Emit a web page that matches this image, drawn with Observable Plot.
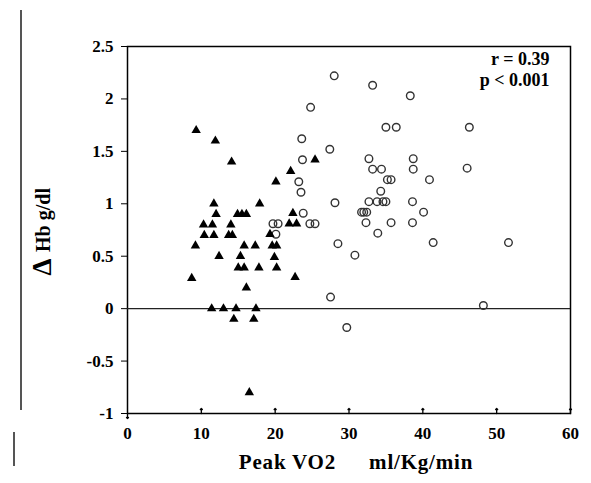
<!DOCTYPE html>
<html><head><meta charset="utf-8">
<script src="https://cdn.jsdelivr.net/npm/d3@7"></script>
<script src="https://cdn.jsdelivr.net/npm/@observablehq/plot@0.6"></script>
<style>
body{margin:0;background:#fff;}
#wrap{position:relative;width:591px;height:483px;overflow:hidden;}
.scan{position:absolute;background:#555;width:2px;}
svg text{font-family:'Liberation Serif','Times New Roman',serif;font-weight:bold;}
</style></head><body>
<div id="wrap">
  <div class="scan" style="left:20px;top:10px;height:400px;"></div>
  <div class="scan" style="left:13px;top:432px;height:34px;"></div>
</div>
<script>
// Filled triangles (low peak VO2 group)
const lowX = [9.3, 11.9, 14.1, 20.1, 22.1, 25.4, 11.7, 17.9, 12.0, 14.9, 15.5, 16.1, 22.4,
  10.3, 11.5, 14.0, 21.9, 22.9, 10.4, 11.7, 13.7, 14.2, 19.3, 9.2, 15.8, 17.3, 19.6, 20.2,
  12.4, 15.3, 19.9, 15.0, 15.8, 17.8, 20.2, 22.7, 8.7, 16.1, 11.4, 13.0, 14.7, 17.4, 14.4, 17.1, 16.5];
const lowY = [1.70, 1.60, 1.40, 1.21, 1.31, 1.42, 1.00, 1.00, 0.90, 0.90, 0.90, 0.90, 0.91,
  0.80, 0.80, 0.80, 0.81, 0.81, 0.70, 0.70, 0.70, 0.70, 0.71, 0.60, 0.60, 0.60, 0.60, 0.60,
  0.50, 0.50, 0.49, 0.39, 0.39, 0.39, 0.39, 0.30, 0.29, 0.20, 0.00, 0.00, 0.00, 0.00, -0.10, -0.10, -0.80];
// Open circles (high peak VO2 group)
const highX = [28.0, 33.2, 38.3, 24.8, 35.0, 36.4, 46.3, 23.6, 27.4, 23.7, 32.7, 38.7, 33.2, 34.4,
  38.7, 46.0, 40.9, 35.2, 35.7, 23.2, 23.5, 34.3, 28.1, 32.7, 33.8, 34.6, 35.0, 38.6, 23.8,
  31.7, 32.0, 32.4, 40.1, 19.7, 20.4, 24.7, 25.4, 32.3, 35.7, 38.6, 20.1, 33.9, 28.5, 41.4,
  51.6, 30.8, 27.5, 48.2, 29.7];
const highY = [2.22, 2.13, 2.03, 1.92, 1.73, 1.73, 1.73, 1.62, 1.52, 1.42, 1.43, 1.43, 1.33, 1.33,
  1.33, 1.34, 1.23, 1.23, 1.23, 1.21, 1.11, 1.12, 1.01, 1.02, 1.02, 1.02, 1.02, 1.02, 0.91,
  0.92, 0.92, 0.92, 0.92, 0.81, 0.81, 0.81, 0.81, 0.82, 0.82, 0.82, 0.71, 0.72, 0.62, 0.63,
  0.63, 0.51, 0.11, 0.03, -0.18];
const xTicks = [0, 10, 20, 30, 40, 50, 60];
const yTicks = [-1, -0.5, 0, 0.5, 1, 1.5, 2, 2.5];
const statLines = ["r = 0.39", "p < 0.001"];
const xLabel = "Peak VO2\u2003\u2002ml/Kg/min";
const yLabelSymbol = "\u0394";
const yLabelText = "Hb g/dl";

const low = lowX.map((x, i) => ({x, y: lowY[i]}));
const high = highX.map((x, i) => ({x, y: highY[i]}));
const serif = "'Liberation Serif', 'Times New Roman', serif";

const chart = Plot.plot({
  width: 591, height: 483,
  marginLeft: 127, marginRight: 21, marginTop: 46, marginBottom: 70,
  style: {fontFamily: serif, fontWeight: "bold", fontSize: "17px", background: "transparent", color: "black"},
  x: {domain: [0, 60], label: null},
  y: {domain: [-1, 2.5], label: null},
  marks: [
    Plot.frame({stroke: "black", strokeWidth: 1.5}),
    Plot.ruleY([0], {stroke: "#222", strokeWidth: 1.2}),
    Plot.axisY({ticks: yTicks, tickSize: 6, tickPadding: 8, tickFormat: d => String(d), label: null, fontSize: 17, fontWeight: "bold", fontFamily: serif}),
    Plot.axisX({ticks: xTicks, tickSize: 0, tickPadding: 13, tickFormat: d => String(d), label: null, fontSize: 17, fontWeight: "bold", fontFamily: serif}),
    Plot.vector(xTicks.slice(1), {x: d => d, y: -1, length: 5, rotate: 0, anchor: "start", stroke: "black", strokeWidth: 1.3}),
    Plot.vector(xTicks.slice(0, 1), {x: d => d, y: -1, length: 5, rotate: 180, anchor: "start", stroke: "black", strokeWidth: 1.3}),
    Plot.dot(high, {x: "x", y: "y", r: 3.8, stroke: "#333", strokeWidth: 1.4, fill: "none"}),
    Plot.dot(low, {x: "x", y: "y", symbol: "triangle", r: 3.5, fill: "black", stroke: "none"}),
    Plot.text([statLines.join("\n")], {frameAnchor: "top-right", textAnchor: "end", dx: -21, dy: 3, fontSize: 18, fontWeight: "bold", fontFamily: serif, lineHeight: 1.2}),
    Plot.text([xLabel], {frameAnchor: "bottom", dx: 7, dy: 55, fontSize: 21, fontWeight: "bold", fontFamily: serif}),
    Plot.text([yLabelText], {frameAnchor: "left", textAnchor: "middle", rotate: -90, dx: -84, dy: -10, fontSize: 20, fontWeight: "bold", fontFamily: serif}),
    Plot.text([yLabelSymbol], {frameAnchor: "left", textAnchor: "middle", rotate: -90, dx: -85, dy: 37, fontSize: 27, fontWeight: "bold", fontFamily: serif})
  ]
});
chart.style.position = "absolute";
chart.style.left = "0px";
chart.style.top = "0px";
d3.select(chart).selectAll("text").filter(function () { return this.textContent === xLabel; }).attr("letter-spacing", "0.8px");
document.getElementById("wrap").appendChild(chart);
</script>
</body></html>
